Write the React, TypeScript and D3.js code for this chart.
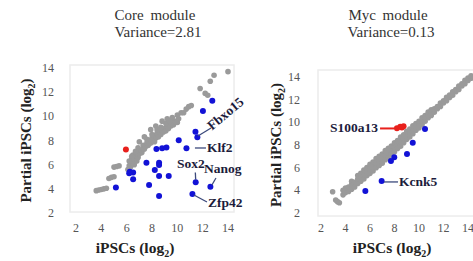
import * as d3 from 'd3'

// Core module (left panel)
const coreGray: [number, number][] = [
  [3.6, 3.85], [3.8, 3.9], [4.0, 3.95], [4.2, 4.0], [4.4, 4.05],
  [4.6, 4.85], [4.8, 4.95], [5.0, 5.0],
  [5.0, 5.8], [5.2, 5.85], [5.4, 5.9],
  [6.1, 5.6], [6.2, 5.9], [6.3, 6.2], [6.4, 6.5], [6.5, 6.8], [6.3, 5.8], [6.5, 6.1],
  [6.6, 6.4], [6.7, 6.7], [6.8, 7.0], [6.6, 6.0], [6.8, 6.3], [6.9, 6.6], [7.0, 6.9],
  [7.1, 7.2], [6.4, 6.7], [6.7, 7.1], [7.2, 7.0], [7.3, 7.3], [6.2, 6.3], [6.9, 7.4],
  [7.3, 7.6], [7.5, 7.5], [7.6, 7.8], [7.7, 7.6], [7.8, 8.0], [7.9, 7.8], [8.0, 8.2],
  [8.1, 8.0], [8.2, 8.4], [8.3, 8.2], [8.4, 8.6], [8.5, 8.3], [8.6, 8.7], [8.7, 8.5],
  [8.8, 8.9], [8.9, 8.7], [9.0, 9.0], [9.1, 8.8], [9.2, 9.2], [9.3, 9.0], [9.4, 9.3],
  [9.5, 9.2], [9.6, 9.5], [9.7, 9.3], [9.8, 9.6], [10.0, 9.5], [10.1, 9.8],
  [7.6, 8.1], [8.0, 8.5], [8.4, 8.9], [8.7, 9.1], [9.1, 9.4], [9.4, 9.6], [7.4, 7.3], [8.2, 7.9],
  [7.0, 7.9], [7.4, 8.3], [7.9, 8.9], [8.3, 9.2], [8.8, 9.6], [9.2, 9.8], [9.6, 9.9],
  [10.0, 10.1], [10.3, 10.3],
  [10.5, 10.3], [10.7, 10.6], [10.9, 10.8], [11.1, 10.9],
  [11.8, 12.3], [12.2, 11.9], [12.4, 11.75], [12.6, 12.9], [12.9, 13.4], [14.0, 13.7],
]
const coreBlue: [number, number][] = [
  [12.76, 11.28], [12.02, 10.45], [11.43, 8.72], [11.58, 8.26], [10.11, 8.03],
  [8.35, 7.29], [8.8, 7.35], [9.14, 7.43], [10.72, 7.35], [7.56, 6.16], [8.56, 6.16],
  [8.56, 5.97], [8.22, 5.55], [6.25, 5.41], [6.51, 5.36], [6.2, 5.28], [8.56, 5.06],
  [9.32, 5.06], [6.51, 4.79], [7.77, 4.31], [5.15, 4.12], [11.45, 4.54], [12.61, 4.17],
  [11.19, 3.57], [8.56, 3.4],
]
const coreRed: [number, number][] = [[5.94, 7.26]]

// Myc module (right panel)
const mycGray: [number, number][] = [
  [2.95, 3.88], [3.2, 3.15], [3.35, 3.0], [3.5, 2.9],
  [3.8, 3.6], [3.8, 4.0], [4.0, 3.8], [4.0, 4.2], [4.25, 3.9], [4.25, 4.3],
  [4.5, 4.1], [4.5, 4.5], [4.5, 4.8], [4.75, 4.3], [4.75, 4.7],
  [5.0, 4.6], [5.0, 5.0], [5.0, 5.3], [5.25, 4.8], [5.25, 5.2], [5.25, 5.5],
  [5.5, 5.0], [5.5, 5.4], [5.5, 5.8], [5.75, 5.3], [5.75, 5.6], [5.75, 6.0],
  [6.0, 5.5], [6.0, 5.9], [6.0, 6.3], [6.25, 5.7], [6.25, 6.1], [6.25, 6.5],
  [6.5, 6.0], [6.5, 6.4], [6.5, 6.8], [6.75, 6.2], [6.75, 6.6], [6.75, 7.0],
  [7.0, 6.4], [7.0, 6.8], [7.0, 7.2], [7.25, 6.7], [7.25, 7.1], [7.25, 7.5],
  [7.5, 6.9], [7.5, 7.3], [7.5, 7.7], [7.75, 7.2], [7.75, 7.6], [7.75, 7.9],
  [8.0, 7.4], [8.0, 7.8], [8.0, 8.2], [8.25, 7.7], [8.25, 8.1], [8.25, 8.4],
  [8.5, 7.9], [8.5, 8.3], [8.5, 8.7], [8.75, 8.2], [8.75, 8.6], [8.75, 8.9],
  [9.0, 8.5], [9.0, 8.8], [9.0, 9.2], [9.25, 8.7], [9.25, 9.1], [9.25, 9.4],
  [9.5, 9.0], [9.5, 9.3], [9.5, 9.7], [9.75, 9.3], [9.75, 9.6], [9.75, 9.9],
  [10.0, 9.5], [10.0, 9.9], [10.0, 10.1], [10.25, 9.8], [10.25, 10.1], [10.25, 10.4],
  [10.5, 10.1], [10.5, 10.4], [10.5, 10.6], [10.75, 10.4], [10.75, 10.6], [10.75, 10.9],
  [11.0, 10.6], [11.0, 10.9], [11.0, 11.1], [11.25, 10.9], [11.25, 11.2],
  [11.5, 11.2], [11.5, 11.4], [11.75, 11.4], [11.75, 11.7], [12.0, 11.7], [12.0, 11.9],
  [12.25, 11.9], [12.25, 12.2], [12.5, 12.2], [12.5, 12.4], [12.75, 12.4], [12.75, 12.7],
  [13.0, 12.7], [13.0, 12.9], [13.25, 12.9], [13.25, 13.2], [13.5, 13.2], [13.5, 13.4],
  [13.75, 13.4], [13.75, 13.7], [14.0, 13.7], [14.0, 13.9], [14.25, 13.9], [14.25, 14.1],
]
const mycBlue: [number, number][] = [
  [10.49, 9.41], [9.49, 8.2], [9.02, 7.21], [7.98, 6.92], [7.71, 6.59], [6.95, 4.82], [5.62, 3.94],
]
const mycRed: [number, number][] = [[8.2, 9.47], [8.47, 9.6], [8.74, 9.66], [8.6, 9.55]]

const ticks = [2, 4, 6, 8, 10, 12, 14]

type Note = { name: string; line: [number, number, number, number]; at: [number, number]; anchor?: string; rotate?: number; color?: string }
const coreNotes: Note[] = [
  { name: 'Fbxo15', line: [11.63, 8.37, 12.66, 9.04], at: [12.74, 8.8], rotate: -40 },
  { name: 'Klf2', line: [11.39, 7.38, 12.26, 7.38], at: [12.34, 7.05] },
  { name: 'Sox2', line: [11.42, 5.35, 11.45, 4.75], at: [9.97, 5.73] },
  { name: 'Nanog', line: [13.05, 4.9, 12.73, 4.32], at: [12.1, 5.31] },
  { name: 'Zfp42', line: [11.31, 3.49, 12.34, 2.91], at: [12.42, 2.5] },
]
const mycNotes: Note[] = [
  { name: 'S100a13', line: [6.82, 9.46, 7.96, 9.46], at: [6.65, 9.15], anchor: 'end', color: '#e8201c' },
  { name: 'Kcnk5', line: [7.14, 4.74, 8.29, 4.74], at: [8.37, 4.38] },
]

const SERIF = 'Liberation Serif'

type PanelProps = {
  title: string
  variance: string
  titleX: number
  frame: [number, number, number, number]
  xRange: [number, number]
  yRange: [number, number]
  tickRight: number
  yLabelX: number
  xLabelX: number
  gray: [number, number][]
  blue: [number, number][]
  red: [number, number][]
  notes: Note[]
}

function Panel(p: PanelProps) {
  const x = d3.scaleLinear().domain([2, 14]).range(p.xRange)
  const y = d3.scaleLinear().domain([2, 14]).range(p.yRange)
  const [fx0, fy0, fx1, fy1] = p.frame
  return (
    <g>
      <text x={p.titleX} y={20} textAnchor="middle" fontFamily={SERIF} fontSize={15} fill="#333" wordSpacing={3}>{p.title}</text>
      <text x={p.titleX + 3} y={37} textAnchor="middle" fontFamily={SERIF} fontSize={15} fill="#333">{p.variance}</text>
      <rect x={fx0} y={fy0} width={fx1 - fx0} height={fy1 - fy0} fill="none" stroke="#ececec" strokeWidth={1.5} />
      {ticks.map(t => (
        <text key={'y' + t} x={p.tickRight} y={y(t) + 4} textAnchor="end" fontFamily={SERIF} fontSize={12} fill="#555">{t}</text>
      ))}
      {ticks.map(t => (
        <text key={'x' + t} x={x(t)} y={232} textAnchor="middle" fontFamily={SERIF} fontSize={12} fill="#555">{t}</text>
      ))}
      <text transform={`translate(${p.yLabelX},${(fy0 + fy1) / 2 + 2}) rotate(-90)`} textAnchor="middle" fontFamily={SERIF} fontSize={15} fontWeight={700} fill="#222">
        Partial iPSCs (log<tspan fontSize={10} dy={4}>2</tspan><tspan dy={-4}>)</tspan>
      </text>
      <text x={p.xLabelX} y={253} textAnchor="middle" fontFamily={SERIF} fontSize={15.5} fontWeight={700} fill="#222">
        iPSCs (log<tspan fontSize={10} dy={4}>2</tspan><tspan dy={-4}>)</tspan>
      </text>
      {p.gray.map((d, i) => (
        <circle key={'g' + i} cx={x(d[0])} cy={y(d[1])} r={2.8} fill="#9a9a9a" />
      ))}
      {p.blue.map((d, i) => (
        <circle key={'b' + i} cx={x(d[0])} cy={y(d[1])} r={3} fill="#1212d6" />
      ))}
      {p.red.map((d, i) => (
        <circle key={'r' + i} cx={x(d[0])} cy={y(d[1])} r={3} fill="#e8201c" />
      ))}
      {p.notes.map(n => (
        <g key={n.name}>
          <line x1={x(n.line[0])} y1={y(n.line[1])} x2={x(n.line[2])} y2={y(n.line[3])} stroke={n.color ?? '#3c4a7c'} strokeWidth={n.color ? 2 : 1.3} />
          <text
            transform={`translate(${x(n.at[0])},${y(n.at[1])}) rotate(${n.rotate ?? 0})`}
            textAnchor={n.anchor ?? 'start'}
            fontFamily={SERIF}
            fontSize={13.5}
            fontWeight={700}
            fill="#1c1c3c"
          >
            {n.name}
          </text>
        </g>
      ))}
    </g>
  )
}

export default function App() {
  return (
    <svg width={473} height={261} style={{ position: 'absolute', left: 0, top: 0, background: '#fff' }}>
      <Panel
        title="Core module"
        variance="Variance=2.81"
        titleX={155}
        frame={[70, 65, 234, 212]}
        xRange={[76, 228]}
        yRange={[213, 68]}
        tickRight={54}
        yLabelX={31}
        xLabelX={135}
        gray={coreGray}
        blue={coreBlue}
        red={coreRed}
        notes={coreNotes}
      />
      <Panel
        title="Myc module"
        variance="Variance=0.13"
        titleX={388}
        frame={[318, 70, 480, 216]}
        xRange={[321, 468]}
        yRange={[213, 77]}
        tickRight={300}
        yLabelX={281}
        xLabelX={392}
        gray={mycGray}
        blue={mycBlue}
        red={mycRed}
        notes={mycNotes}
      />
    </svg>
  )
}
